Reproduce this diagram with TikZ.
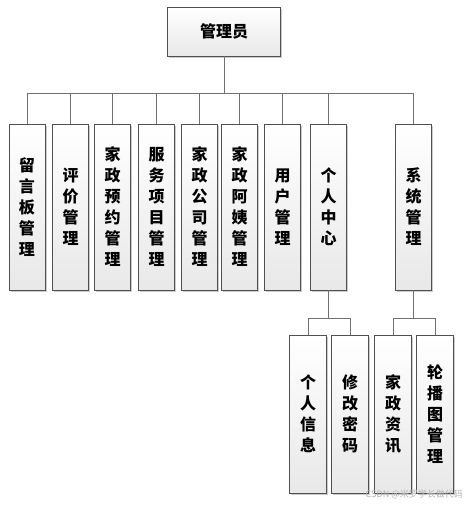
\documentclass[tikz,border=0pt]{standalone}
\usepackage{fontspec}
\newfontfamily\cjk{Noto Sans CJK SC}
\usetikzlibrary{shadows}
\definecolor{boxline}{HTML}{505050}
\definecolor{connline}{HTML}{707070}
\tikzset{
  box/.style={draw=boxline, line width=0.9pt, top color=white, bottom color=black!9,
    drop shadow={shadow xshift=1.8pt, shadow yshift=-1.8pt, fill=black!25, opacity=0.8},
    inner sep=0pt, align=center,
    font=\cjk\bfseries\fontsize{16}{21}\selectfont},
  lvone/.style={box, minimum width=36pt, minimum height=166pt},
  lvtwo/.style={box, minimum width=37pt, minimum height=158pt},
  conn/.style={draw=connline, line width=0.9pt},
}
\begin{document}
\begin{tikzpicture}[x=1pt,y=-1pt]
\useasboundingbox (0,0) rectangle (465,506);
\node[box, minimum width=113pt, minimum height=49pt] (top) at (224,31.5) {管理员};
\node[lvone] (b1) at (27,207) {留\\言\\板\\管\\理};
\node[lvone] (b2) at (70.5,207) {评\\价\\管\\理};
\node[lvone] (b3) at (112.5,207) {家\\政\\预\\约\\管\\理};
\node[lvone] (b4) at (156.5,207) {服\\务\\项\\目\\管\\理};
\node[lvone] (b5) at (199.5,207) {家\\政\\公\\司\\管\\理};
\node[lvone] (b6) at (239.5,207) {家\\政\\阿\\姨\\管\\理};
\node[lvone] (b7) at (282.5,207) {用\\户\\管\\理};
\node[lvone] (b8) at (328.5,207) {个\\人\\中\\心};
\node[lvone] (b9) at (413.5,207) {系\\统\\管\\理};
\node[lvtwo] (c1) at (308,414) {个\\人\\信\\息};
\node[lvtwo] (c2) at (350,414) {修\\改\\密\\码};
\node[lvtwo] (c3) at (393,414) {家\\政\\资\\讯};
\node[lvtwo] (c4) at (435,414) {轮\\播\\图\\管\\理};
\foreach \b in {b1,b2,b3,b4,b5,b6,b7,b8,b9}
  \draw[conn] (top.south) -- ++(0,37) -| (\b.north);
\foreach \c in {c1,c2}
  \draw[conn] (b8.south) -- ++(0,28) -| (\c.north);
\foreach \c in {c3,c4}
  \draw[conn] (b9.south) -- ++(0,28) -| (\c.north);
\node[anchor=east, text=black!30, font=\cjk\fontsize{9}{10}\selectfont, inner sep=0pt] (wm) at (463,494) {CSDN @米罗学长做代码};
\end{tikzpicture}
\end{document}
